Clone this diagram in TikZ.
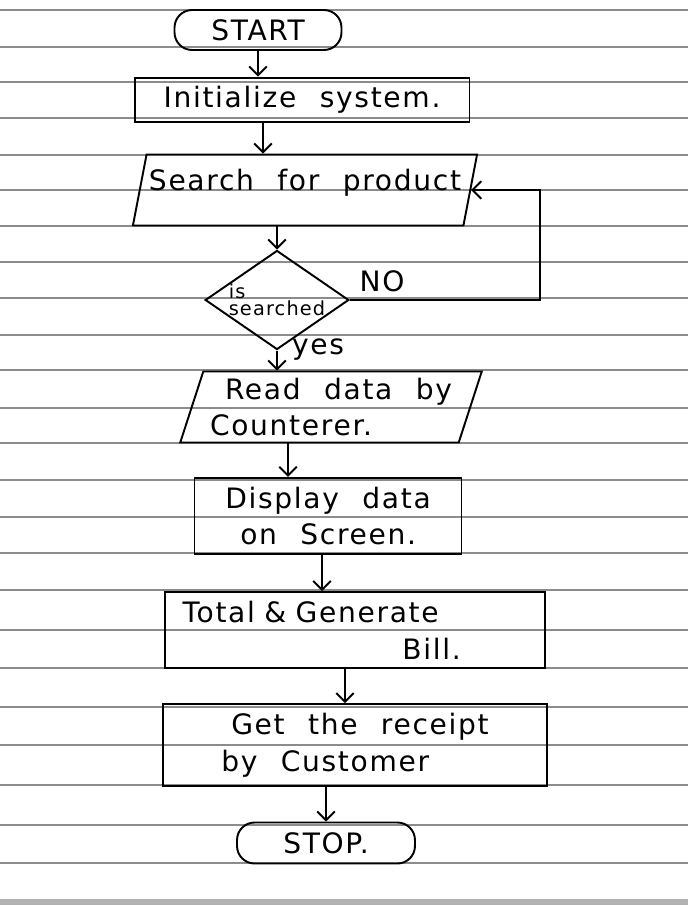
\documentclass[tikz,border=0pt]{standalone}
\usepackage{fontspec}
\setmainfont{DejaVu Sans}[LetterSpace=6, WordSpace=2.2]
\usetikzlibrary{shapes.geometric,arrows.meta}
\tikzset{
    pen/.style = {line width=1.1pt},
    hand-text/.style = {font=\fontsize{16}{21}\selectfont},
    term-box/.style = {pen, draw, rectangle, rounded corners=10pt, hand-text},
    proc-box/.style = {pen, draw, rectangle, align=left, inner sep=5pt, hand-text},
    io-box/.style = {pen, draw, trapezium, trapezium left angle=72, trapezium right angle=108, trapezium stretches=true, align=left, hand-text},
    test-box/.style = {pen, draw, diamond, shape aspect=1.45, minimum width=2.32cm, minimum height=1.6cm, inner sep=0pt, align=left, font=\fontsize{11}{10}\selectfont},
    flow-arrow/.style = {pen, -{Straight Barb[length=5pt,width=10pt]}},
    ruled-line/.style = {black!45, line width=0.7pt},
}
\begin{document}
\begin{tikzpicture}[x=0.02cm, y=-0.02cm]
\useasboundingbox (0,0) rectangle (688,906);
% ruled paper
\foreach \y in {10,47,82,118,155,190,226,262,298,335,370,408,443,480,517,553,590,630,668,707,745,785,825,863}
    \draw[ruled-line] (0,\y) -- (688,\y);
\draw[black!30, line width=3pt] (0,902) -- (688,902);

\node[term-box, minimum width=3.34cm, minimum height=0.8cm] (start) at (258,30) {START};
\node[proc-box, minimum width=6.7cm, minimum height=0.74cm] (init) at (302,100) {Initialize system.};
\node[io-box, minimum width=6.9cm, minimum height=1.42cm, inner xsep=0pt, inner ysep=0pt] (search) at (305,190) {\raisebox{0.4cm}{Search for product}};
\node[test-box] (test) at (277,300) {is\\searched};
\node[io-box, minimum width=6.04cm, minimum height=1.42cm] (read) at (331,407) {\hspace*{0.3cm}Read data by\\Counterer.};
\node[proc-box, minimum width=5.34cm, minimum height=1.44cm] (show) at (328,516) {Display data\\\hspace*{0.3cm}on Screen.};
\node[proc-box, minimum width=7.6cm, minimum height=1.5cm, text width=6.9cm] (total) at (355,630) {Total \& Generate\\\hspace*{4.4cm}Bill.};
\node[proc-box, minimum width=7.68cm, minimum height=1.54cm] (receipt) at (355,745) {\hspace*{0.2cm}Get the receipt\\by Customer};
\node[term-box, minimum width=3.56cm, minimum height=0.82cm] (stop) at (326,843) {STOP.};

\draw[flow-arrow] (start.south) -- (start.south |- init.north);
\draw[flow-arrow] ([xshift=-0.78cm]init.south) -- ([xshift=-0.78cm]init.south |- search.north);
\draw[flow-arrow] (test.north |- search.south) -- (test.north);
\draw[flow-arrow] (test.south) -- (test.south |- read.north);
\draw[flow-arrow] ([xshift=-0.86cm]read.south) -- ([xshift=-0.86cm]read.south |- show.north);
\draw[flow-arrow] ([xshift=-0.12cm]show.south) -- ([xshift=-0.12cm]show.south |- total.north);
\draw[flow-arrow] ([xshift=-0.2cm]total.south) -- ([xshift=-0.2cm]total.south |- receipt.north);
\draw[flow-arrow] (stop.north |- receipt.south) -- (stop.north);

% loop back when not found
\coordinate (no-turn) at (540,298);
\draw[flow-arrow] (test.east) -- (test.east -| no-turn) |- (search.east);
\node[hand-text] (no-label) at (382,281) {NO};
\node[hand-text] (yes-label) at (318,350) {yes};
\end{tikzpicture}
\end{document}
